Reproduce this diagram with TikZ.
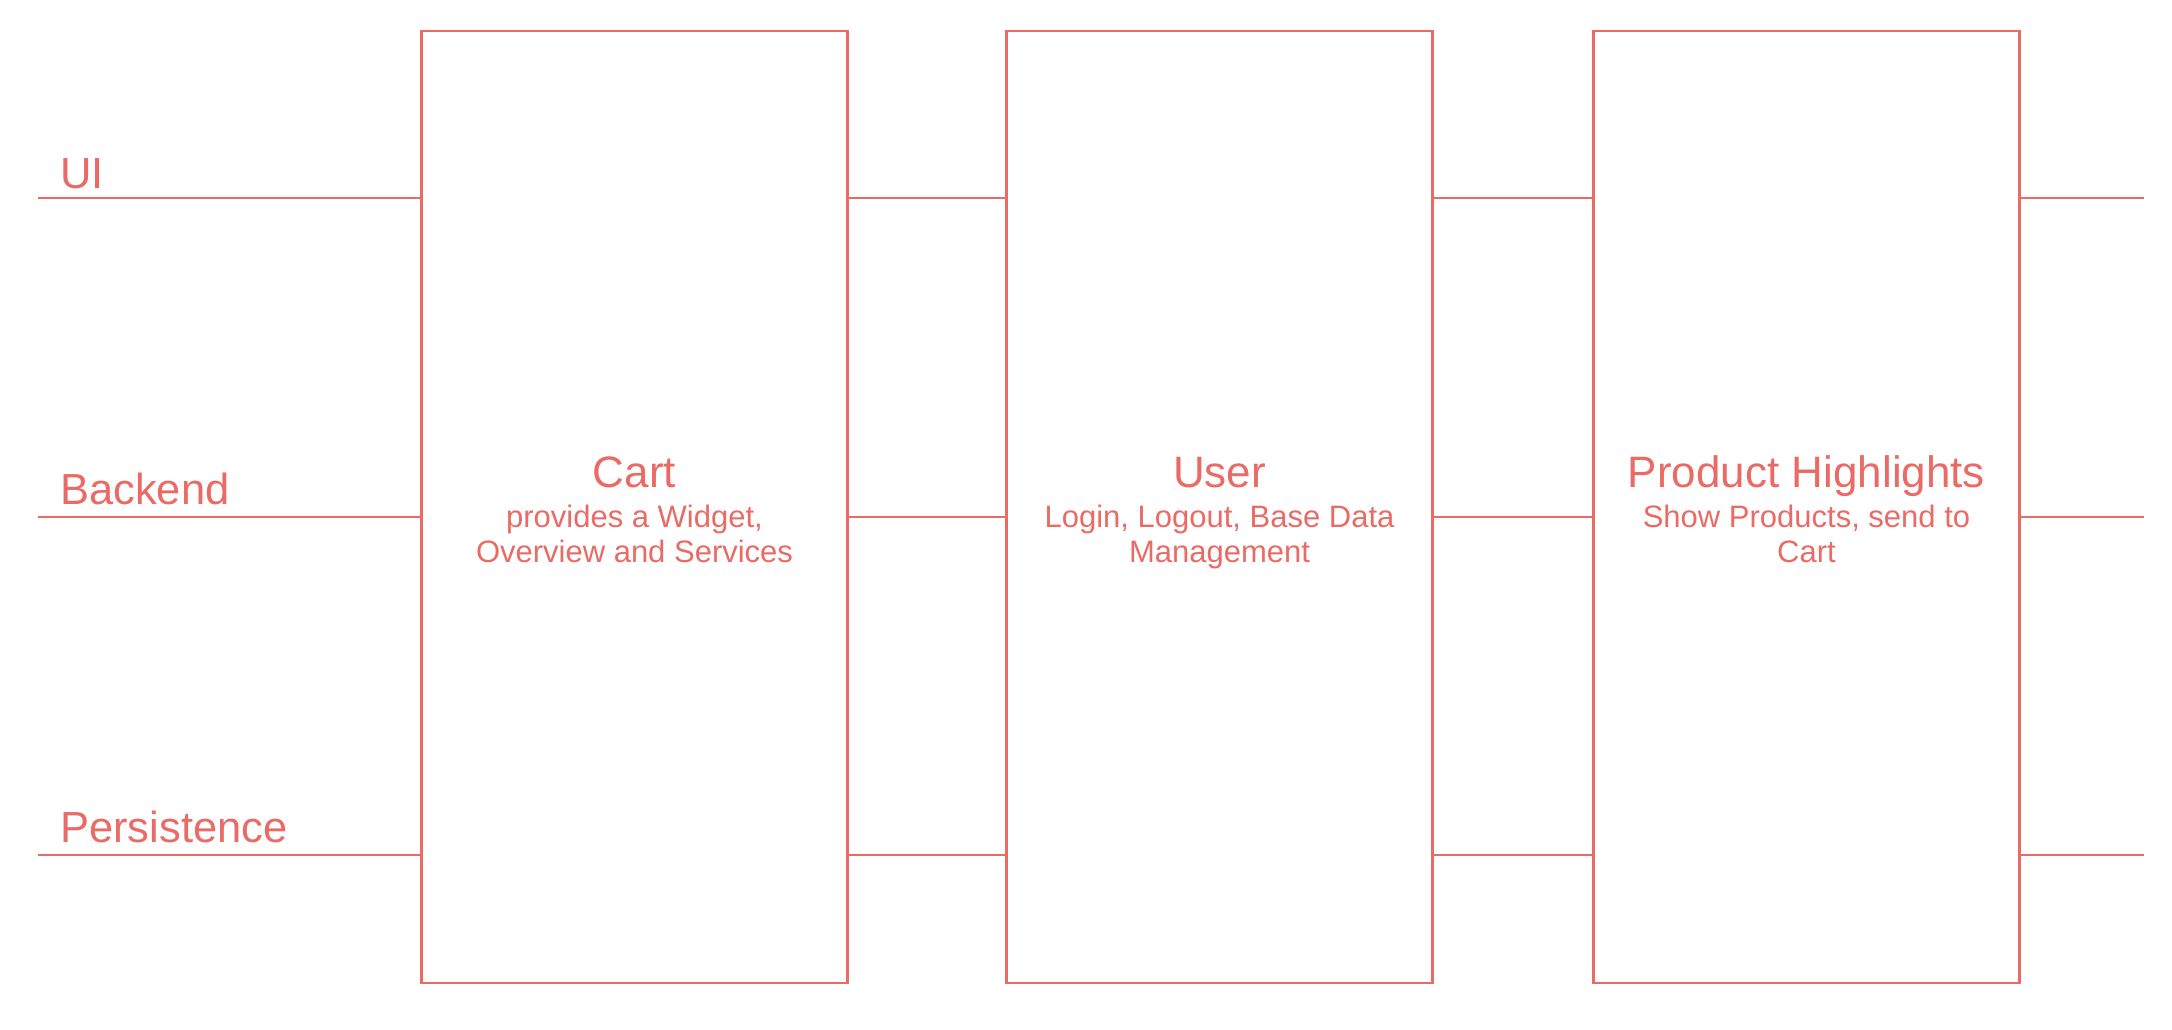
\documentclass[tikz,border=0pt]{standalone}
\usepackage{fontspec}
\setmainfont{Liberation Sans}
\usepackage{xcolor}
\usetikzlibrary{positioning}

\definecolor{drawred}{HTML}{EA6B66}

\begin{document}
\begin{tikzpicture}[%
  x=1pt, y=-1pt,
  line width=2.5pt,
  every node/.style={align=center, text=drawred},
  module/.style={draw=drawred, outer sep=0pt, minimum width=426pt, minimum height=952pt, text height=110pt, text depth=0pt, font=\fontsize{31}{35}\selectfont},
  modtitle/.style={font=\fontsize{44}{44}\selectfont},
  layerlbl/.style={anchor=base west, inner sep=0pt, font=\fontsize{43.5}{50}\selectfont},
  layer/.style={draw=drawred}
]
\useasboundingbox (0,0) rectangle (2172,1030);

% Modules
\node[module] (cart) at (634.5,507) {{\fontsize{44}{44}\selectfont Cart}\\[5pt]provides a Widget,\\Overview and Services};
\node[module, right=159pt of cart] (user) {{\fontsize{44}{44}\selectfont User}\\[5pt]Login, Logout, Base Data\\Management};
\node[module, right=161pt of user] (prod) {{\fontsize{44}{44}\selectfont Product Highlights}\\[5pt]Show Products, send to\\Cart};

% Layer levels
\coordinate (ui) at (38,198);
\coordinate (be) at (38,517);
\coordinate (pe) at (38,855);
\coordinate (uiend) at (2144,198);
\coordinate (beend) at (2144,517);
\coordinate (peend) at (2144,855);

% Layer labels
\node[layerlbl] (uilbl) at (59,189) {UI};
\node[layerlbl] (belbl) at (59,504) {Backend};
\node[layerlbl] (pelbl) at (59,842) {Persistence};

% Layer lines
\foreach \lv in {ui,be,pe}{
  \draw[layer] (\lv) -- (cart.west |- \lv);
  \draw[layer] (cart.east |- \lv) -- (user.west |- \lv);
  \draw[layer] (user.east |- \lv) -- (prod.west |- \lv);
  \draw[layer] (prod.east |- \lv) -- (\lv end);
}
\end{tikzpicture}
\end{document}
